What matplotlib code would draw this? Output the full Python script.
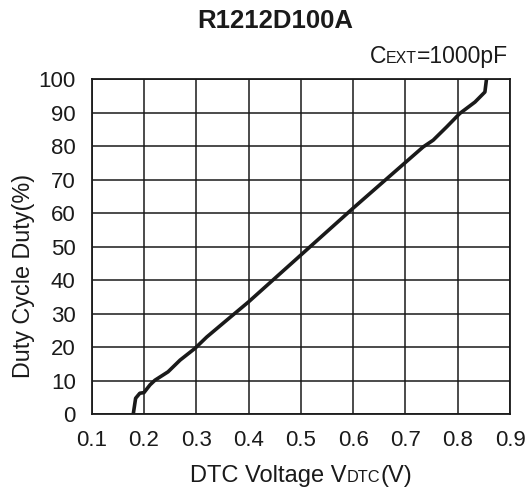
import matplotlib
matplotlib.use("Agg")
import matplotlib.pyplot as plt

plt.rcParams['font.family'] = ['Liberation Sans', 'DejaVu Sans']

# Data
vdtc = [0.1795, 0.184, 0.192, 0.200, 0.2115, 0.221, 0.246, 0.269, 0.2975, 0.320,
        0.358, 0.400, 0.500, 0.600, 0.690, 0.734, 0.753, 0.779, 0.804, 0.833,
        0.8425, 0.852, 0.855]
duty = [0.0, 4.7, 6.2, 6.4, 8.7, 10.1, 12.6, 16.1, 19.6, 23.0,
        28.0, 33.5, 47.5, 61.5, 73.8, 79.8, 81.8, 85.8, 89.8, 93.2,
        94.7, 96.2, 100.0]
xticks = [0.1, 0.2, 0.3, 0.4, 0.5, 0.6, 0.7, 0.8, 0.9]
yticks = [0, 10, 20, 30, 40, 50, 60, 70, 80, 90, 100]

W, H = 528, 491
fig = plt.figure(figsize=(W / 100, H / 100), dpi=100)
ax = fig.add_axes([91.7 / W, 1 - 414 / H, (510 - 91.7) / W, (414 - 79.3) / H])

ax.plot(vdtc, duty, color='#1a1a1a', lw=2.6, solid_joinstyle='round', zorder=3)
ax.set_xlim(0.1, 0.9)
ax.set_ylim(0, 100)
ax.set_xticks(xticks)
ax.set_yticks(yticks)
ax.set_xticklabels([f"{v:.1f}" for v in xticks])
ax.set_yticklabels([str(v) for v in yticks])
ax.grid(True, color='#1a1a1a', lw=1.1)
for s in ax.spines.values():
    s.set_color('#1a1a1a')
    s.set_linewidth(1.3)
ax.tick_params(length=0, labelsize=16, colors='#1a1a1a')
ax.tick_params(axis='x', pad=11.5)
ax.tick_params(axis='y', pad=11.5)

fig.text(275 / W, 1 - 28.3 / H, 'R1212D100A', ha='center', va='baseline',
         fontsize=18.5, fontweight='bold', color='#1a1a1a')

fig.text(23.5 / W, 1 - 276 / H, 'Duty Cycle Duty(%)', rotation=90, ha='center',
         va='center', fontsize=16.8, color='#1a1a1a')


def mixed(pieces, x_px, base_px, align):
    """Draw text pieces of varying size on a common baseline (pixel coords from top)."""
    texts = [fig.text(0, 0, s, fontsize=fs, color='#1a1a1a', va='baseline', ha='left')
             for s, fs in pieces]
    fig.canvas.draw()
    r = fig.canvas.get_renderer()
    widths = [t.get_window_extent(r).width for t in texts]
    total = sum(widths)
    start = x_px - total if align == 'right' else (x_px - total / 2 if align == 'center' else x_px)
    cur = start
    for t, w in zip(texts, widths):
        t.set_position((cur / W, 1 - base_px / H))
        cur += w


mixed([('C', 16.5), ('EXT', 11.5), ('=1000pF', 16.5)], 508, 63.3, 'right')
mixed([('DTC Voltage V', 17), ('DTC', 11.8), ('(V)', 17)], 301, 482.3, 'center')

fig.savefig('out.png', dpi=100)
